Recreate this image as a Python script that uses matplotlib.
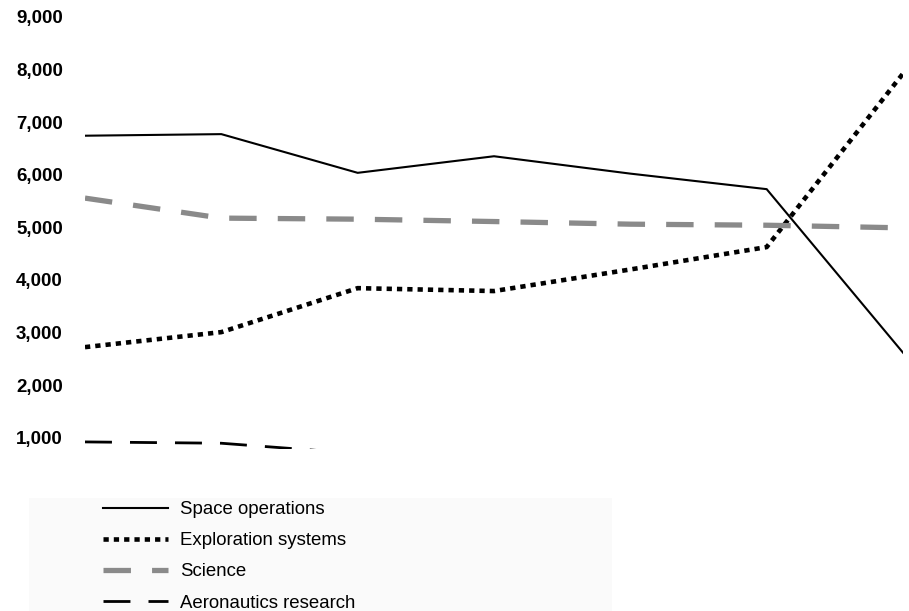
import matplotlib
matplotlib.use("Agg")
import matplotlib.pyplot as plt
from matplotlib.patches import Rectangle

# ---- data ----
periods = [0, 1, 2, 3, 4, 5, 6]
space_operations = [6740, 6770, 6035, 6350, 6020, 5725, 2620]
exploration_systems = [2725, 3010, 3845, 3790, 4200, 4625, 7920]
science = [5555, 5175, 5155, 5110, 5060, 5040, 4990]
aeronautics_research = [925, 900, 705, 660, 620, 600, 550]
y_ticks = [1000, 2000, 3000, 4000, 5000, 6000, 7000, 8000, 9000]
y_tick_labels = ["1,000", "2,000", "3,000", "4,000", "5,000", "6,000", "7,000", "8,000", "9,000"]
series_labels = ["Space operations", "Exploration systems", "Science", "Aeronautics research"]

W, H = 909, 611
fig = plt.figure(figsize=(W / 100, H / 100), dpi=100)
plt.rcParams['font.family'] = ['Liberation Sans', 'DejaVu Sans']

# axes placement (pixel-based)
left_px, right_px = 85, 903
top_px, bottom_px = 16.7, 448.5
ax = fig.add_axes([left_px / W, 1 - bottom_px / H, (right_px - left_px) / W, (bottom_px - top_px) / H])
ax.set_xlim(periods[0], periods[-1])
ax.set_ylim(800, 9000)

# background legend box
fig.patches.append(Rectangle((29 / W, 0), (612 - 29) / W, (H - 498) / H,
                             transform=fig.transFigure, facecolor="#fafafa",
                             edgecolor="none", zorder=0))

l1, = ax.plot(periods, space_operations, color="black", lw=1.5, solid_joinstyle="miter",
              label=series_labels[0])
l2, = ax.plot(periods, exploration_systems, color="black", lw=3.3, dashes=(1.15, 1.1),
              dash_capstyle="butt", label=series_labels[1])
l3, = ax.plot(periods, science, color="#8a8a8a", lw=3.8, dashes=(5.2, 4.0),
              dash_capstyle="butt", label=series_labels[2])
l4, = ax.plot(periods, aeronautics_research, color="black", lw=2.0, dashes=(9.7, 6.5),
              dash_capstyle="butt", label=series_labels[3])

ax.set_yticks(y_ticks)
ax.set_yticklabels(y_tick_labels, fontsize=13.5, fontweight="bold")
ax.tick_params(axis="y", length=0, pad=16)
ax.set_xticks([])
for s in ax.spines.values():
    s.set_visible(False)
ax.patch.set_alpha(0)

leg = fig.legend(handles=[l1, l2, l3, l4], loc="upper left",
                 bbox_to_anchor=(103 / W, 1 - 501 / H), frameon=False,
                 fontsize=13.4, handlelength=3.5, handletextpad=0.65,
                 labelspacing=0.76, borderpad=0, borderaxespad=0)

fig.savefig("out.png", dpi=100)
